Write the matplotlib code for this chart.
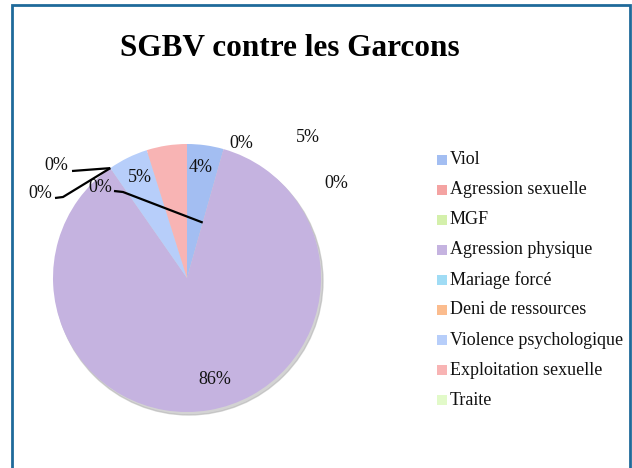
import matplotlib.pyplot as plt
import numpy as np
from matplotlib.patches import Rectangle

# données
categories = ['Viol', 'Agression sexuelle', 'MGF', 'Agression physique', 'Mariage forcé',
              'Deni de ressources', 'Violence psychologique', 'Exploitation sexuelle', 'Traite']
valeurs = [4.4, 0, 0, 85.9, 0, 0, 4.85, 4.85, 0]
couleurs = ['#a3bef2', '#f4a3a2', '#d4f0ab', '#c5b3e0', '#a0dcf5',
            '#fbbc8e', '#b7cefa', '#f8b4b4', '#e2fac9']
titre = 'SGBV contre les Garcons'

W, H = 632, 468
fig = plt.figure(figsize=(W / 100, H / 100), dpi=100)
ax = fig.add_axes([0, 0, 1, 1])

def py(y):
    # coordonnée pixel (haut = 0) -> coordonnée axe
    return H - y

cx, cy, R = 187, py(278), 134
police = 'Liberation Serif'

# ombre légère
ax.add_patch(plt.Circle((cx + 2, cy - 3), R, color='#b0b0b0', alpha=0.55, zorder=1))
wedges, _ = ax.pie(valeurs, colors=couleurs, startangle=90, counterclock=False,
                   center=(cx, cy), radius=R, frame=True,
                   wedgeprops=dict(linewidth=0, zorder=2))
ax.set_xlim(0, W)
ax.set_ylim(0, H)
ax.axis('off')

def label(txt, x, y):
    ax.text(x, py(y), txt, ha='center', va='center', fontsize=13,
            family=police, color='#111111', zorder=5)

# étiquettes (positions à la Excel)
label('4%', 201, 168)
label('0%', 241, 144)
label('5%', 308, 137)
label('0%', 336, 183)
label('5%', 140, 178)
label('0%', 56, 166)
label('0%', 40, 193)
label('0%', 100, 187)
label('86%', 215, 379)

# lignes de rappel vers les parts à 0%
a1 = np.deg2rad(wedges[0].theta1)      # limite Viol / Agression physique
a2 = np.deg2rad(wedges[3].theta1)      # limite Agression physique / Violence psychologique
p1 = (cx + 0.43 * R * np.cos(a1), cy + 0.43 * R * np.sin(a1))
p2 = (cx + R * np.cos(a2), cy + R * np.sin(a2))
kw = dict(color='black', lw=1.6, zorder=6, solid_capstyle='butt')
ax.plot([72, p2[0]], [py(171), p2[1]], **kw)
ax.plot([55, 63, p2[0]], [py(198), py(197), p2[1]], **kw)
ax.plot([114, 123, p1[0]], [py(191), py(192), p1[1]], **kw)

# légende
for i, (cat, col) in enumerate(zip(categories, couleurs)):
    y = 159.5 + 30.1 * i
    ax.add_patch(Rectangle((437, py(y) - 5), 10, 10, color=col, lw=0, zorder=3))
    ax.text(450, py(y), cat, ha='left', va='center', fontsize=13,
            family=police, color='#111111')

# titre
ax.text(290, py(48), titre, ha='center', va='center', fontsize=22.5,
        fontweight='bold', family=police, color='black')

# cadre
ax.add_patch(Rectangle((12, -10), 618, py(5) + 10, fill=False,
                       edgecolor='#1f6a9a', lw=2, zorder=10))

fig.savefig('out.png', dpi=100)
